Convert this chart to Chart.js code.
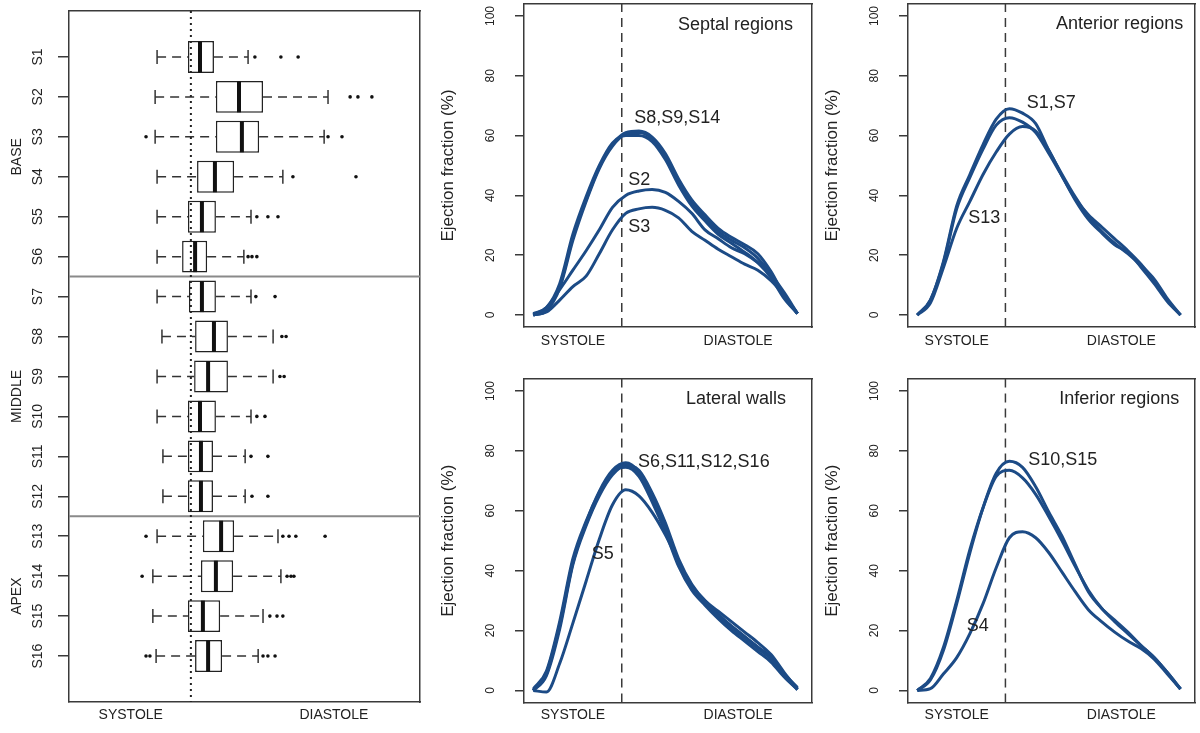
<!DOCTYPE html>
<html>
<head>
<meta charset="utf-8">
<script src="https://cdn.jsdelivr.net/npm/chart.js@4"></script>
<style>
html,body{margin:0;padding:0;background:#fff;width:1200px;height:733px;overflow:hidden;}
canvas{position:absolute;}
</style>
</head>
<body>
<canvas id="boxes" width="430" height="733" style="left:0px;top:0px"></canvas>
<canvas id="septal" width="400" height="366" style="left:420px;top:0px"></canvas>
<canvas id="anterior" width="396" height="366" style="left:804px;top:0px"></canvas>
<canvas id="lateral" width="400" height="358" style="left:420px;top:375px"></canvas>
<canvas id="inferior" width="396" height="358" style="left:804px;top:375px"></canvas>
<script>
// ---------------- DATA ----------------
const segments = ['S1','S2','S3','S4','S5','S6','S7','S8','S9','S10','S11','S12','S13','S14','S15','S16'];
const boxLow    = [23.1,22.5,22.5,23.1,23.1,23.1,23.1,24.6,23.1,23.1,24.9,24.9,23.1,21.8,21.8,22.8];
const boxQ1     = [32.6,41.2,41.2,35.4,32.6,30.8,32.9,34.8,34.5,32.6,32.6,32.6,37.2,36.6,32.6,34.8];
const boxMedian = [36.3,48.3,49.2,40.9,36.9,34.8,36.9,40.6,38.8,36.3,36.6,36.6,42.8,41.2,37.2,38.8];
const boxQ3     = [40.6,55.7,54.5,46.8,41.2,38.5,41.2,44.9,44.9,41.2,40.3,40.3,46.8,46.5,42.5,43.1];
const boxHigh   = [51.1,75.7,74.5,61.8,52.0,49.8,52.0,58.8,58.8,52.0,50.2,50.2,60.3,61.2,55.7,54.2];
const boxOutliers = [
  [53.2,61.2,66.5],
  [82.5,84.9,89.2],
  [19.7,75.7,80.0],
  [64.9,84.3],
  [53.8,57.2,60.3],
  [51.1,52.3,53.8],
  [53.5,59.4],
  [61.5,62.8],
  [60.9,62.2],
  [53.8,56.3],
  [52.0,57.2],
  [52.3,57.2],
  [19.7,61.8,63.7,65.8,74.8],
  [18.5,63.1,64.3,65.2],
  [57.8,60.0,61.8],
  [19.7,20.9,55.7,57.2,59.4]
];
const groupNames   = ['BASE','MIDDLE','APEX'];
const groupCenters = [3.5, 9.5, 14.5];
const groupBreaks  = [6.5, 12.5];

const phaseLabels    = ['SYSTOLE','DIASTOLE'];
const phasePositions = [15, 77.5];
const systoleEnd     = 33.5;
const efTicks        = [0,20,40,60,80,100];

const cycleX = [0,5,10,15,20,25,30,35,40,45,50,55,60,65,70,75,80,85,90,95,100];

const septalS8  = [0,2,9.5,26,38.5,49.5,57,61,61.5,59.5,54,45.5,38.5,33.5,29,26,23.5,20.5,14.5,6.5,0.5];
const septalS9  = [0,1.5,9,25,38,49,56.5,60.5,61,59,53,44.5,37.5,32.5,28,25,22.5,19,13.5,6,0.5];
const septalS14 = [0.5,2.5,10.5,27,39.5,50,57.5,60,60,58,52,43.5,36.5,31.5,27,24,21,17.5,12.5,5.5,0.5];
const septalS2  = [0,2.5,8.5,15,21.5,28.5,36,40,41.5,42,41,38,34,28.5,25.5,22.5,20.5,17.5,13.5,7.5,0.5];
const septalS3  = [0,1,5,9.5,13,20.5,28.5,34,35.5,36,35,32.5,28,25,22,19.5,17,15,11.5,6.5,0.5];

const anteriorS1  = [0,5,18,36.5,47,57,65.5,69,67.5,64,55,47,39.5,33,28,24,20.5,16.5,12,5.5,0];
const anteriorS7  = [0,5,17.5,35.5,46,55.5,63.5,66,64.5,61,54,46.5,39,33.5,29.5,25.5,21.5,17,11.5,5,0];
const anteriorS13 = [0,4,16,29,38,47,54.5,60.5,63,61.5,55,46.5,38.5,32,27.5,23.5,21,16,10.5,4.5,0];

const lateralS6  = [0,6,22,43,55.5,65.5,72.5,75.5,72.5,64.5,54,42.5,34.5,29.5,25,21,17.5,14,10.5,5,0.3];
const lateralS11 = [0,5,20.5,42,55,65,72,75,73.5,66,56,44,35.5,30,26.5,23,19.5,16,12,6,0.5];
const lateralS12 = [0.5,6.5,23,44,56.5,66,73,74.5,71.5,63,53,41.5,33.5,28.5,24,20,16.5,13,9.5,4.5,0.3];
const lateralS16 = [0,5.5,21.5,42.5,56,66.5,73.5,76,73,65,55,43,35,30,25.5,21.5,18,14.5,11,5.5,1];
const lateralS5  = [0,-0.5,9,22.5,36.5,50.5,62,67,65,59.5,52,43,35,29.5,25,21.5,18,14.5,11,5,0.5];

const inferiorS10 = [0,3.5,13.5,29,46,61,72.5,76.5,74.5,68,59.5,51.5,42,33,27.5,23.5,19.5,15,11,6,0.5];
const inferiorS15 = [0,4,14.5,30,47,61,71.5,73.5,71,65.5,58,50,41.5,33.5,27.5,23,19,15,11,6,0.5];
const inferiorS4  = [0,0.6,5.6,11,19,29,41,51,53,51,46,39.5,33,27,23,19.5,16.5,14,10.5,5.5,0.5];

// ---------------- STYLE / LAYOUT ----------------
const FONT = '"Liberation Sans", Arial, Helvetica, sans-serif';
const INK = '#222222';
const FRAME = '#3a3a3a';
const LINE_BLUE = '#1c4b86';
const X_MIN = -3.5, X_MAX = 105.5;
const BX_MIN = -4, BX_MAX = 104;
const EF_MIN = -4, EF_MAX = 104;
const ROW_MIN = -0.15, ROW_MAX = 17.15;

function noPad(a) { a.paddingLeft = 0; a.paddingRight = 0; a.paddingTop = 0; a.paddingBottom = 0; }

const notesPlugin = {
  id: 'notes',
  afterDatasetsDraw(chart, args, opts) {
    const items = (opts && opts.items) || [];
    const ctx = chart.ctx;
    const xs = chart.scales.x, ys = chart.scales.y;
    ctx.save();
    ctx.fillStyle = INK;
    ctx.textBaseline = 'middle';
    items.forEach(it => {
      ctx.font = it.size + 'px ' + FONT;
      ctx.textAlign = it.align || 'left';
      ctx.fillText(it.text, xs.getPixelForValue(it.x), ys.getPixelForValue(it.y));
    });
    ctx.restore();
  }
};

function frameAxis(position, min, max) {
  return {
    type: 'linear', position, min, max, display: true,
    ticks: {display: false},
    grid: {display: false, drawTicks: false, tickLength: 0},
    border: {display: true, color: FRAME, width: 1.5},
    afterFit(a) { if (a.isHorizontal()) a.height = 0; else a.width = 0; noPad(a); }
  };
}

// ---------------- BOX PLOT PANEL ----------------
(function () {
  const rows = segments.map((s, i) => i + 1);
  const outlierPts = [];
  boxOutliers.forEach((list, i) => list.forEach(v => outlierPts.push({x: v, y: rows[i]})));
  const whiskerPts = [];
  rows.forEach((r, i) => {
    whiskerPts.push({x: boxLow[i], y: r}, {x: boxQ1[i], y: r}, {x: boxQ1[i], y: null});
    whiskerPts.push({x: boxQ3[i], y: r}, {x: boxHigh[i], y: r}, {x: boxHigh[i], y: null});
  });
  const capPts = [];
  rows.forEach((r, i) => { capPts.push({x: boxLow[i], y: r}, {x: boxHigh[i], y: r}); });
  const sepPts = [];
  groupBreaks.forEach(b => { sepPts.push({x: BX_MIN, y: b}, {x: BX_MAX, y: b}, {x: BX_MAX, y: null}); });

  new Chart(document.getElementById('boxes'), {
    type: 'scatter',
    data: {
      datasets: [
        {label: 'outliers', data: outlierPts, pointStyle: 'circle', pointRadius: 1.8,
         pointBackgroundColor: '#111', pointBorderWidth: 0, order: 0},
        {label: 'median', data: rows.map((r, i) => ({x: boxMedian[i], y: r})), pointStyle: 'line',
         pointRadius: 15.5, pointRotation: 90, pointBorderColor: '#111', pointBorderWidth: 4, order: 1},
        {label: 'caps', data: capPts, pointStyle: 'line', pointRadius: 7, pointRotation: 90,
         pointBorderColor: '#333', pointBorderWidth: 1.5, order: 2},
        {label: 'systole end', showLine: true, data: [{x: systoleEnd, y: ROW_MIN}, {x: systoleEnd, y: ROW_MAX}],
         borderColor: '#222', borderWidth: 2, borderDash: [2, 4], pointRadius: 0, order: 3},
        {type: 'bar', label: 'IQR', indexAxis: 'y', data: rows.map((r, i) => ({x: [boxQ1[i], boxQ3[i]], y: r})),
         backgroundColor: '#ffffff', borderColor: '#222', borderWidth: 1.5, borderSkipped: false,
         categoryPercentage: 1, barPercentage: 0.8, order: 4},
        {label: 'whiskers', showLine: true, data: whiskerPts, borderColor: '#333', borderWidth: 1.5,
         borderDash: [9, 6], pointRadius: 0, spanGaps: false, order: 5},
        {label: 'groups', showLine: true, data: sepPts, borderColor: '#8a8a8a', borderWidth: 2,
         pointRadius: 0, spanGaps: false, order: 6}
      ]
    },
    options: {
      responsive: false, animation: false, events: [],
      layout: {autoPadding: false, padding: {left: 0, right: 10, top: 11, bottom: 0}},
      plugins: {legend: {display: false}, tooltip: {enabled: false}},
      scales: {
        x: {type: 'linear', position: 'bottom', min: BX_MIN, max: BX_MAX,
          afterBuildTicks(a) { a.ticks = phasePositions.map(v => ({value: v})); },
          ticks: {autoSkip: false, minRotation: 0, maxRotation: 0, padding: 5, color: INK,
                  font: {family: FONT, size: 14}, callback: (v, i) => phaseLabels[i]},
          grid: {display: false, drawTicks: false, tickLength: 0},
          border: {display: true, color: FRAME, width: 1.5},
          afterFit(a) { a.height = 31; noPad(a); }},
        x2: frameAxis('top', BX_MIN, BX_MAX),
        y: {type: 'linear', position: 'left', min: ROW_MIN, max: ROW_MAX, reverse: true,
          offset: false, weight: 0,
          afterBuildTicks(a) { a.ticks = rows.map(v => ({value: v})); },
          ticks: {autoSkip: false, minRotation: 90, maxRotation: 90, crossAlign: 'center', padding: 7.5,
                  color: INK, font: {family: FONT, size: 14}, callback: (v, i) => segments[i]},
          grid: {offset: false, drawOnChartArea: false, drawTicks: true, tickLength: 11, color: FRAME, lineWidth: 1.5},
          border: {display: true, color: FRAME, width: 1.5},
          afterFit(a) { a.width = 43; noPad(a); }},
        yg: {type: 'linear', position: 'left', min: ROW_MIN, max: ROW_MAX, reverse: true, weight: 10,
          afterBuildTicks(a) { a.ticks = groupCenters.map(v => ({value: v})); },
          ticks: {autoSkip: false, minRotation: 90, maxRotation: 90, crossAlign: 'center', padding: -17.4,
                  color: INK, font: {family: FONT, size: 14}, callback: (v, i) => groupNames[i]},
          grid: {display: false, drawTicks: false, tickLength: 0},
          border: {display: false},
          afterFit(a) { a.width = 26; noPad(a); }},
        y2: frameAxis('right', ROW_MIN, ROW_MAX)
      }
    }
  });
})();

// ---------------- CURVE PANELS ----------------
function linePanel(canvasId, seriesList, notes, opt) {
  const datasets = seriesList.map(s => ({
    showLine: true, data: cycleX.map((x, i) => ({x: x, y: s[i]})),
    borderColor: LINE_BLUE, borderWidth: 3, pointRadius: 0,
    cubicInterpolationMode: 'monotone', fill: false, order: 1
  }));
  datasets.push({
    showLine: true, data: [{x: systoleEnd, y: EF_MIN}, {x: systoleEnd, y: EF_MAX}],
    borderColor: FRAME, borderWidth: 1.5, borderDash: [9, 6], pointRadius: 0, order: 2
  });
  new Chart(document.getElementById(canvasId), {
    type: 'scatter',
    data: {datasets},
    options: {
      responsive: false, animation: false, events: [],
      layout: {autoPadding: false, padding: {left: 0, right: opt.padRight, top: 4, bottom: 0}},
      plugins: {legend: {display: false}, tooltip: {enabled: false}, notes: {items: notes}},
      scales: {
        x: {type: 'linear', position: 'bottom', min: X_MIN, max: X_MAX,
          afterBuildTicks(a) { a.ticks = phasePositions.map(v => ({value: v})); },
          ticks: {autoSkip: false, minRotation: 0, maxRotation: 0, padding: opt.xPad, color: INK,
                  font: {family: FONT, size: 14}, callback: (v, i) => phaseLabels[i]},
          grid: {display: false, drawTicks: false, tickLength: 0},
          border: {display: true, color: FRAME, width: 1.5},
          afterFit(a) { a.height = opt.xHeight; noPad(a); }},
        x2: frameAxis('top', X_MIN, X_MAX),
        y: {type: 'linear', position: 'left', min: EF_MIN, max: EF_MAX,
          afterBuildTicks(a) { a.ticks = efTicks.map(v => ({value: v})); },
          ticks: {autoSkip: false, minRotation: 90, maxRotation: 90, crossAlign: 'center', padding: 14,
                  color: INK, font: {family: FONT, size: 12}},
          grid: {drawOnChartArea: false, drawTicks: true, tickLength: 9, color: FRAME, lineWidth: 1.5},
          border: {display: true, color: FRAME, width: 1.5},
          title: {display: true, text: 'Ejection fraction (%)', color: INK,
                  font: {family: FONT, size: 17}, padding: {top: 18, bottom: 0}},
          afterFit(a) { a.width = 104; noPad(a); }},
        y2: frameAxis('right', EF_MIN, EF_MAX)
      }
    },
    plugins: [notesPlugin]
  });
}

linePanel('septal', [septalS8, septalS9, septalS14, septalS2, septalS3], [
  {text: 'Septal regions', x: 98.3, y: 97, align: 'right', size: 18},
  {text: 'S8,S9,S14', x: 38.2, y: 65.9, size: 18},
  {text: 'S2', x: 36, y: 45.2, size: 18},
  {text: 'S3', x: 36, y: 29.4, size: 18}
], {padRight: 8, xHeight: 39, xPad: 6});

linePanel('anterior', [anteriorS1, anteriorS7, anteriorS13], [
  {text: 'Anterior regions', x: 101, y: 97.3, align: 'right', size: 18},
  {text: 'S1,S7', x: 41.6, y: 70.8, size: 18},
  {text: 'S13', x: 19.4, y: 32.3, size: 18}
], {padRight: 5, xHeight: 39, xPad: 6});

linePanel('lateral', [lateralS6, lateralS11, lateralS12, lateralS16, lateralS5], [
  {text: 'Lateral walls', x: 95.7, y: 97.2, align: 'right', size: 18},
  {text: 'S6,S11,S12,S16', x: 39.6, y: 76.3, size: 18},
  {text: 'S5', x: 22.1, y: 45.4, size: 18}
], {padRight: 8, xHeight: 30.5, xPad: 4});

linePanel('inferior', [inferiorS10, inferiorS15, inferiorS4], [
  {text: 'Inferior regions', x: 99.5, y: 97.2, align: 'right', size: 18},
  {text: 'S10,S15', x: 42.2, y: 76.9, size: 18},
  {text: 'S4', x: 18.8, y: 21.4, size: 18}
], {padRight: 5, xHeight: 30.5, xPad: 4});
</script>
</body>
</html>
